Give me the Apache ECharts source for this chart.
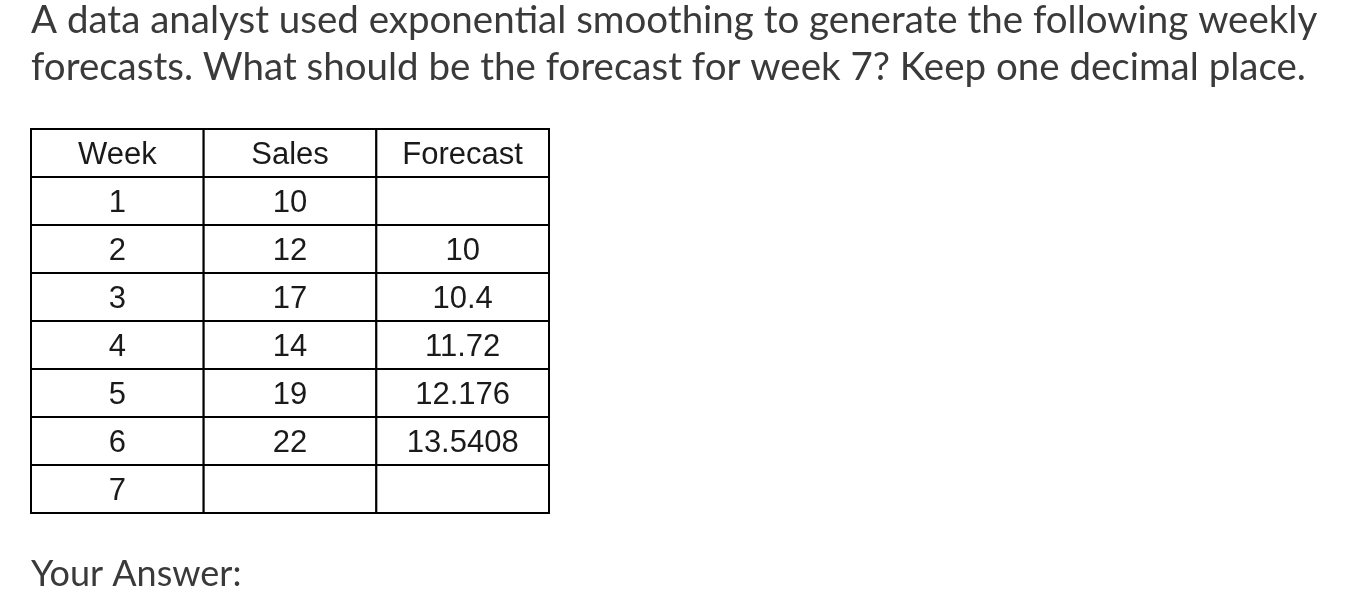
<!DOCTYPE html>
<html><head><meta charset="utf-8">
<script src="https://cdn.jsdelivr.net/npm/echarts@6/dist/echarts.min.js"></script>
<style>html,body{margin:0;padding:0;background:#fff}#c{width:1364px;height:616px}</style>
</head><body><div id="c"></div>
<script>
const headers = ['Week', 'Sales', 'Forecast'];
const weeks = ['1', '2', '3', '4', '5', '6', '7'];
const sales = ['10', '12', '17', '14', '19', '22', ''];
const forecast = ['', '10', '10.4', '11.72', '12.176', '13.5408', ''];
const rows = ['h'].concat(weeks.map((w, i) => 'r' + i));

const cells = [];
headers.forEach((h, c) => cells.push([c, 0, h]));
weeks.forEach((w, i) => {
  cells.push([0, i + 1, w]);
  cells.push([1, i + 1, sales[i]]);
  cells.push([2, i + 1, forecast[i]]);
});

const chart = echarts.init(document.getElementById('c'));
chart.setOption({
  animation: false,
  grid: { left: 31, top: 129, width: 518, height: 384 },
  xAxis: { type: 'category', data: headers, show: false },
  yAxis: { type: 'category', data: rows, inverse: true, show: false },
  graphic: [
    { type: 'text', left: 31, top: 1, style: { text: 'A data analyst used exponential smoothing to generate the following weekly', font: '38.5px Lato', fill: '#3a3a3a' } },
    { type: 'text', left: 31, top: 48, style: { text: 'forecasts. What should be the forecast for week 7? Keep one decimal place.', font: '38.5px Lato', fill: '#3a3a3a' } },
    { type: 'text', left: 31, top: 556, style: { text: 'Your Answer:', font: '36px Lato', fill: '#3a3a3a' } }
  ],
  series: [{
    type: 'custom',
    data: cells,
    encode: { x: 0, y: 1 },
    renderItem: function (params, api) {
      const p = api.coord([api.value(0), api.value(1)]);
      const s = api.size([1, 1]);
      return {
        type: 'group',
        children: [
          { type: 'rect', shape: { x: p[0] - s[0] / 2, y: p[1] - s[1] / 2, width: s[0], height: s[1] },
            style: { fill: '#fff', stroke: '#000', lineWidth: 2 } },
          { type: 'text', x: p[0], y: p[1] + 2,
            style: { text: cells[params.dataIndex][2], font: '31px "Liberation Sans", Arial', fill: '#1a1a1a', align: 'center', verticalAlign: 'middle' } }
        ]
      };
    }
  }]
});
</script></body></html>
